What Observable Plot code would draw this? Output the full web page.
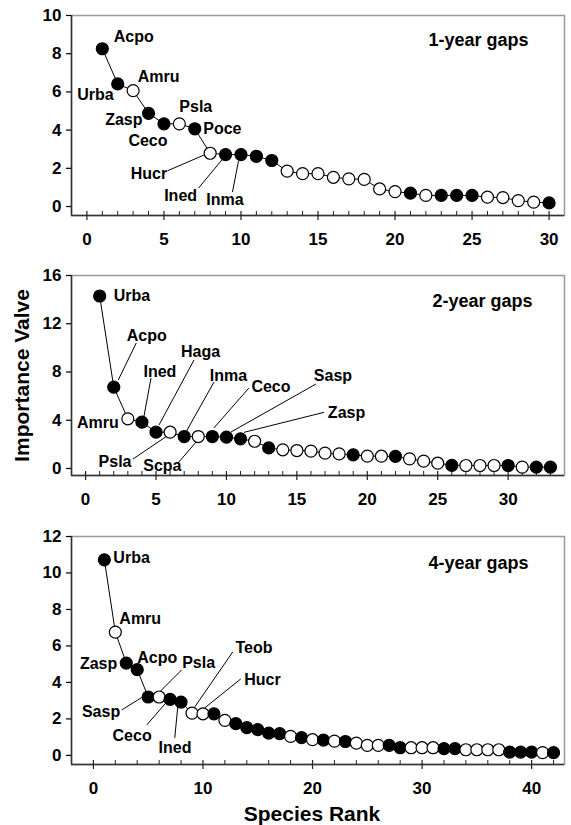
<!DOCTYPE html>
<html><head><meta charset="utf-8">
<script src="https://cdn.jsdelivr.net/npm/d3@7"></script>
<script src="https://cdn.jsdelivr.net/npm/@observablehq/plot@0.6"></script>
<style>
body{margin:0;background:#fff;}
#chart svg{display:block;}
</style></head><body><div id="chart"></div>
<script>
// ---- Data ----
const values1 = [8.26,6.42,6.07,4.88,4.33,4.33,4.07,2.79,2.72,2.72,2.63,2.41,1.85,1.72,1.72,1.53,1.45,1.42,0.92,0.78,0.70,0.58,0.58,0.58,0.58,0.49,0.47,0.31,0.23,0.19];
const filled1 = [1,1,0,1,1,0,1,0,1,1,1,1,0,0,0,0,0,0,0,0,1,0,1,1,1,0,0,0,0,1];
const values2 = [14.3,6.74,4.12,3.84,3.01,3.01,2.65,2.65,2.65,2.6,2.46,2.26,1.71,1.55,1.49,1.44,1.27,1.21,1.13,1.03,1.02,1.0,0.80,0.61,0.44,0.26,0.25,0.25,0.25,0.25,0.11,0.11,0.11];
const filled2 = [1,1,0,1,1,0,1,0,1,1,1,0,1,0,0,0,0,0,1,0,0,1,0,0,0,1,0,0,0,1,0,1,1];
const values3 = [10.72,6.76,5.06,4.70,3.20,3.20,3.07,2.92,2.32,2.28,2.28,1.92,1.74,1.52,1.41,1.22,1.19,1.04,0.97,0.86,0.84,0.78,0.76,0.67,0.55,0.55,0.55,0.42,0.42,0.42,0.42,0.37,0.37,0.31,0.31,0.31,0.31,0.18,0.18,0.18,0.15,0.15];
const filled3 = [1,0,1,1,1,0,1,1,0,0,1,0,1,1,1,1,1,0,1,0,1,0,1,0,0,0,1,1,0,0,0,1,1,0,0,0,0,1,1,1,0,1];

const labels1 = ["Acpo","Urba","Amru","Zasp","Ceco","Psla","Poce","Hucr","Ined","Inma"];
const labelRanks1 = [1,2,3,4,5,6,7,8,9,10];
const labels2 = ["Urba","Acpo","Amru","Ined","Haga","Psla","Inma","Scpa","Ceco","Sasp","Zasp"];
const labelRanks2 = [1,2,3,4,5,6,7,8,9,10,11];
const labels3 = ["Urba","Amru","Zasp","Acpo","Sasp","Psla","Ceco","Ined","Teob","Hucr"];
const labelRanks3 = [1,2,3,4,5,6,7,8,9,10];

const titles = ["1-year gaps","2-year gaps","4-year gaps"];
const yTicks1 = [0,2,4,6,8,10];
const yTicks2 = [0,4,8,12,16];
const yTicks3 = [0,2,4,6,8,10,12];
const xMajor1 = [0,5,10,15,20,25,30];
const xMajor2 = [0,5,10,15,20,25,30];
const xMajor3 = [0,10,20,30,40];
const yLabel = "Importance Valve";
const xLabel = "Species Rank";

// ---- Layout (pixel offsets for annotations: [dx, dy, anchor, leaderStart, leaderEnd]) ----
const layout1 = [
  [11.5,-12,"start"],[-4,10.6,"end"],[4.5,-14,"start"],[-6,7,"end"],[-16,17,"middle"],
  [0,-17,"start"],[8.5,0,"start"],
  [-43,21,"end",[-42,18],[-5,2]],[-28.5,41,"end",[-26.5,34],[-2.5,5]],[-16,45,"middle",[-8,38],[-2,7]]
];
const layout2 = [
  [14,0,"start"],[33,-51.5,"middle",[23,-43.7],[5,-6.7]],[-9,4,"end"],
  [18,-50,"middle",[9.6,-43.7],[2.6,-5.7]],[44.5,-80,"middle",[38.5,-71.7],[3.5,-6.7]],
  [-38.6,30,"end",[-36.6,27.3],[-2.6,4.3]],[44.3,-61,"middle",[30.3,-54],[2.3,-4]],
  [-16.8,29,"end",[-19.8,27],[0,4]],[58.6,-50,"middle",[37,-48],[2,-8]],
  [106.5,-61,"middle",[90,-52.6],[5,-4.6]],[106,-26,"middle",[84,-26],[4,-6]]
];
const layout3 = [
  [9,-2,"start"],[4,-13.6,"start"],[-9,1,"end"],[0,-12,"start"],
  [-28,15,"end",[-26,13.4],[-5,0.4]],[23,-34.6,"start",[23,-26.6],[0,-3.6]],
  [-38,36,"middle",[-22.8,26],[-2.8,3]],[-6,46,"middle",[-5.8,36.3],[-2.8,5.3]],
  [62,-64.7,"middle",[41.3,-60.7],[3.3,-5.7]],[41.3,-34.4,"start",[38.3,-34.4],[2.3,-5.4]]
];

const FONT = "'Liberation Sans', Arial, Helvetica, sans-serif";

function panel({values, filled, labels, labelRanks, layout, title, yTicks, xMajor, minorStep, xDomain, yDomain, height, marginTop, marginBottom, titleDx, titleDy, extra = []}) {
  const data = values.map((v, i) => ({rank: i + 1, iv: v, fill: filled[i] ? "#000" : "#fff"}));
  const ann = labels.map((name, i) => ({name, rank: labelRanks[i], iv: values[labelRanks[i] - 1], lay: layout[i]}));
  const H = height - marginTop - marginBottom;
  const minor = d3.range(0, xDomain[1], minorStep).filter(t => !xMajor.includes(t));
  const marks = [
    Plot.frame({stroke: "#999", strokeWidth: 1.5}),
    Plot.ruleX([xDomain[0]], {stroke: "#333", strokeWidth: 1.5}),
    Plot.ruleY([yDomain[0]], {stroke: "#333", strokeWidth: 1.5}),
    Plot.tickX(minor, {x: d => d, insetTop: H - 4, stroke: "#222", strokeWidth: 1}),
    Plot.tickX(xMajor, {x: d => d, insetTop: H - 4, insetBottom: -5, stroke: "#222", strokeWidth: 1.2}),
    Plot.axisX(xMajor, {tickSize: 0, tickPadding: 17, fontSize: 17, fontWeight: "bold", label: null}),
    Plot.axisY(yTicks, {tickSize: 5, tickPadding: 5, fontSize: 17, fontWeight: "bold", label: null, strokeWidth: 1.2}),
    (index, scales) => {
      const g = d3.create("svg:g").attr("stroke", "#000").attr("stroke-width", 1);
      for (const a of ann) {
        if (!a.lay[3]) continue;
        const px = scales.x(a.rank), py = scales.y(a.iv);
        g.append("line")
          .attr("x1", px + a.lay[3][0]).attr("y1", py + a.lay[3][1])
          .attr("x2", px + a.lay[4][0]).attr("y2", py + a.lay[4][1]);
      }
      return g.node();
    },
    Plot.line(data, {x: "rank", y: "iv", stroke: "#000", strokeWidth: 1}),
    Plot.dot(data, {x: "rank", y: "iv", r: 6, fill: "fill", stroke: "#000", strokeWidth: 1.2}),
    ...ann.map(a => Plot.text([a], {x: "rank", y: "iv", text: "name", dx: a.lay[0], dy: a.lay[1], textAnchor: a.lay[2], lineAnchor: "middle", fontSize: 16, fontWeight: "bold", fill: "#000"})),
    Plot.text([title], {frameAnchor: "top-right", dx: titleDx, dy: titleDy, textAnchor: "end", lineAnchor: "top", fontSize: 18, fontWeight: "bold"}),
    ...extra
  ];
  return Plot.plot({
    width: 571, height, marginLeft: 71, marginRight: 7, marginTop, marginBottom,
    style: {fontFamily: FONT, background: "#fff", color: "#000"},
    x: {domain: xDomain},
    y: {domain: yDomain},
    marks
  });
}

const root = document.getElementById("chart");
root.append(panel({values: values1, filled: filled1, labels: labels1, labelRanks: labelRanks1, layout: layout1, title: titles[0],
  yTicks: yTicks1, xMajor: xMajor1, minorStep: 1, xDomain: [-1, 31], yDomain: [-0.47, 10], height: 260, marginTop: 15, marginBottom: 45, titleDx: -36, titleDy: 18}));
root.append(panel({values: values2, filled: filled2, labels: labels2, labelRanks: labelRanks2, layout: layout2, title: titles[1],
  yTicks: yTicks2, xMajor: xMajor2, minorStep: 1, xDomain: [-1, 34], yDomain: [-0.58, 16], height: 260, marginTop: 15, marginBottom: 45, titleDx: -32, titleDy: 19,
  extra: [Plot.text([yLabel], {frameAnchor: "left", rotate: -90, dx: -49, fontSize: 21, fontWeight: "bold", lineAnchor: "middle", textAnchor: "middle"})]}));
root.append(panel({values: values3, filled: filled3, labels: labels3, labelRanks: labelRanks3, layout: layout3, title: titles[2],
  yTicks: yTicks3, xMajor: xMajor3, minorStep: 2, xDomain: [-2, 43], yDomain: [-0.5, 12], height: 305, marginTop: 16, marginBottom: 61, titleDx: -36, titleDy: 20,
  extra: [Plot.text([xLabel], {frameAnchor: "bottom", dx: -6, dy: 50, fontSize: 21, fontWeight: "bold", lineAnchor: "middle"})]}));
</script></body></html>
